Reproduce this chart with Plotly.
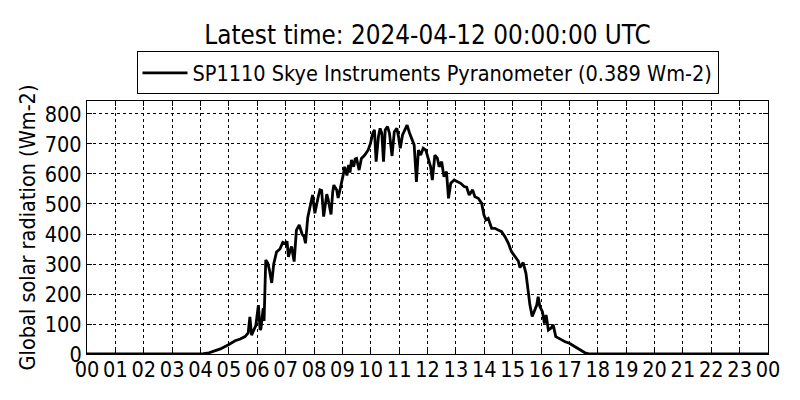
import plotly.graph_objects as go

hours = [0.0, 3.9, 4.1, 4.3, 4.5, 4.7, 4.97, 5.1, 5.22, 5.4, 5.57, 5.68, 5.74, 5.80, 5.86, 5.95,
         6.04, 6.10, 6.13, 6.21, 6.24, 6.30, 6.37, 6.43, 6.51, 6.58, 6.68, 6.80, 6.90, 6.98,
         7.05, 7.10, 7.16, 7.21, 7.30, 7.38, 7.48, 7.58, 7.65, 7.70, 7.78, 7.86, 7.95,
         8.03, 8.09, 8.15, 8.21, 8.27, 8.34, 8.40, 8.45, 8.50, 8.60, 8.66, 8.70, 8.80, 8.85,
         8.90, 8.95, 9.00, 9.04, 9.08, 9.16, 9.22, 9.27, 9.32, 9.40, 9.45, 9.50, 9.59, 9.67,
         9.79, 9.91, 9.99, 10.07, 10.13, 10.19, 10.27, 10.33, 10.39, 10.45, 10.51, 10.59,
         10.66, 10.75, 10.83, 10.92, 10.98, 11.04, 11.12, 11.22, 11.28, 11.37, 11.47, 11.53,
         11.61, 11.68, 11.76, 11.85, 11.94, 12.03, 12.11, 12.17, 12.26, 12.35, 12.41, 12.50,
         12.58, 12.67, 12.74, 12.82, 12.94, 13.06, 13.17, 13.29, 13.38, 13.47, 13.59, 13.67,
         13.79, 13.91, 13.99, 14.06, 14.14, 14.26, 14.38, 14.49, 14.61, 14.73, 14.85, 14.96,
         15.08, 15.20, 15.26, 15.37, 15.47, 15.55, 15.61, 15.69, 15.77, 15.85, 15.90, 15.96,
         16.05, 16.12, 16.18, 16.26, 16.35, 16.43, 16.52, 16.61, 16.73, 16.85, 17.00, 17.20,
         17.37, 17.55, 17.73, 24.0]

radiation = [0, 0, 1, 4, 10, 17, 30, 38, 44, 50, 58, 70, 124, 63, 74, 95,
             163, 80, 85, 153, 110, 313, 303, 280, 237, 300, 340, 350, 372, 369,
             375, 324, 345, 358, 308, 413, 430, 400, 391, 369, 455, 490, 530,
             469, 500, 524, 547, 545, 458, 505, 533, 515, 465, 540, 563, 547, 520,
             540, 560, 586, 602, 624, 595, 630, 605, 647, 624, 650, 652, 613, 652,
             663, 680, 702, 736, 747, 641, 724, 752, 736, 641, 747, 758,
             736, 660, 741, 752, 724, 686, 730, 752, 763, 736, 713, 697,
             574, 680, 663, 686, 680, 647, 624, 580, 663, 652, 624, 641,
             591, 608, 519, 569, 580, 574, 569, 558, 556, 530, 547, 524,
             519, 502, 463, 447, 452, 419, 419, 413, 408, 391, 369, 341,
             324, 310, 288, 305, 269, 210, 163, 125, 147, 163, 191, 158,
             141, 102, 130, 80, 86, 97, 58, 52, 47, 41, 36, 24,
             13, 4, 0, 0]

tick_hours = list(range(25))
tick_labels = ["00", "01", "02", "03", "04", "05", "06", "07", "08", "09", "10", "11",
               "12", "13", "14", "15", "16", "17", "18", "19", "20", "21", "22", "23", "00"]
y_ticks = [0, 100, 200, 300, 400, 500, 600, 700, 800]

title_text = "Latest time: 2024-04-12 00:00:00 UTC"
series_name = "SP1110 Skye Instruments Pyranometer (0.389 Wm-2)"
y_label = "Global solar radiation (Wm-2)"

FONT = "DejaVu Sans Condensed, DejaVu Sans"
FS = 21.5

fig = go.Figure()
fig.add_trace(go.Scatter(x=hours, y=radiation, mode="lines", name=series_name,
                         line=dict(color="black", width=2.8)))

axis_common = dict(showline=True, linecolor="black", linewidth=1, mirror="ticks",
                   ticks="inside", ticklen=5, tickcolor="black", tickwidth=1,
                   showgrid=True, gridcolor="black", griddash="dot", gridwidth=1,
                   zeroline=False, automargin=False,
                   tickfont=dict(family=FONT, size=FS, color="black"))

fig.update_xaxes(range=[0, 24], tickvals=tick_hours, ticktext=tick_labels,
                 ticklabelstandoff=-4, **axis_common)
fig.update_yaxes(range=[0, 843.3], tickvals=y_ticks,
                 title=dict(text=y_label, font=dict(family=FONT, size=FS, color="black"), standoff=3),
                 **axis_common)

fig.update_layout(
    width=800, height=400,
    margin=dict(l=87, r=32, t=101, b=46),
    paper_bgcolor="white", plot_bgcolor="white",
    font=dict(family=FONT, color="black"),
    title=dict(text=title_text, x=0.5, xref="paper", xanchor="center",
               y=1 - 35 / 400, yref="container", yanchor="middle",
               font=dict(family=FONT, size=25.8, color="black")),
    showlegend=True,
    legend=dict(x=0.5, xanchor="center", y=1.196, yanchor="top",
                bordercolor="black", borderwidth=1, bgcolor="white",
                itemwidth=45,
                font=dict(family=FONT, size=FS, color="black")),
)

fig.write_html("out.html", post_script="document.body.style.margin='0';",
               config={"displayModeBar": False})
